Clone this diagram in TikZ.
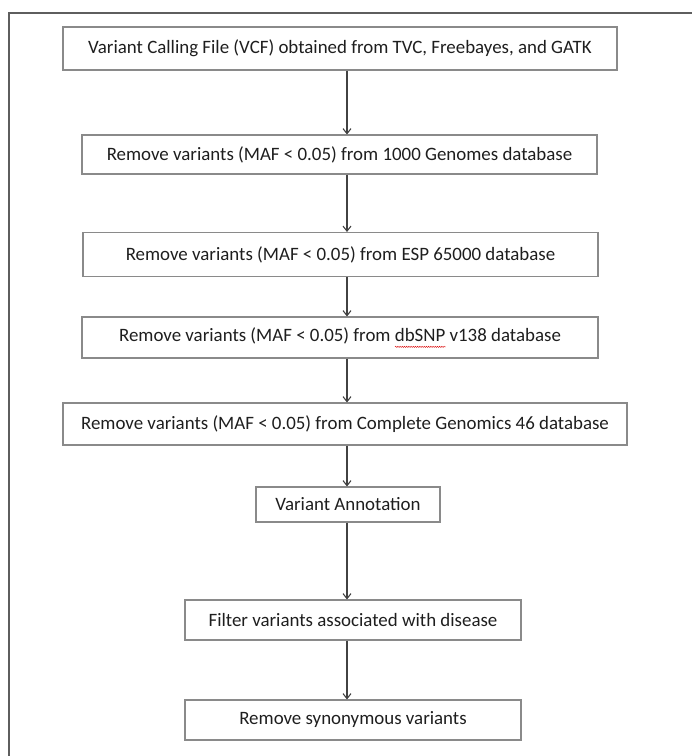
\documentclass[tikz,border=0pt]{standalone}
\usepackage{fontspec}
\setmainfont{Carlito}
\usetikzlibrary{arrows.meta,decorations.pathmorphing}
\definecolor{boxgray}{HTML}{8A8A8A}
\definecolor{linegray}{HTML}{424242}
\definecolor{framegray}{HTML}{5E5E5E}
\definecolor{textgray}{HTML}{1E1E1E}
\newlength{\squiglen}
\newcommand{\squig}[1]{\settowidth{\squiglen}{#1}\rlap{\raisebox{-6.5pt}{\tikz\draw[red!85!black, line width=0.4pt, decorate, decoration={snake, amplitude=0.6pt, segment length=2.2pt}] (0,0) -- (\squiglen,0);}}#1}
\begin{document}
\begin{tikzpicture}[
  x=1pt, y=-1pt,
  flowbox/.style={draw=boxgray, line width=1.1pt, text=textgray, font=\fontsize{18.9}{22}\selectfont, inner sep=0pt},
  flowarrow/.style={draw=linegray, line width=1.1pt, -{Straight Barb[length=5pt, width=8pt]}}
]
\useasboundingbox (0,0) rectangle (692,756);
\draw[framegray, line width=2pt] (9.3,756) -- (9.3,12.7) -- (692,12.7);
\coordinate (spine) at (347,0);
\node[flowbox, minimum width=554, minimum height=43] (vcf) at (340,48.5) {Variant Calling File (VCF) obtained from TVC, Freebayes, and GATK};
\node[flowbox, minimum width=515, minimum height=39] (kgenomes) at (339.5,154.5) {Remove variants (MAF < 0.05) from 1000 Genomes database};
\node[flowbox, minimum width=515, minimum height=44] (esp) at (340.5,254.5) {Remove variants (MAF < 0.05) from ESP 65000 database};
\node[flowbox, minimum width=516, minimum height=41] (dbsnp) at (340,337.5) {Remove variants (MAF < 0.05) from \squig{dbSNP} v138 database};
\node[flowbox, minimum width=564, minimum height=42] (cg) at (345,424) {Remove variants (MAF < 0.05) from Complete Genomics 46 database};
\node[flowbox, minimum width=184, minimum height=35] (annot) at (348,504.5) {Variant Annotation};
\node[flowbox, minimum width=336, minimum height=40] (disease) at (353,620) {Filter variants associated with disease};
\node[flowbox, minimum width=336, minimum height=40] (synon) at (353,720) {Remove synonymous variants};
\draw[flowarrow] (vcf.south -| spine) -- (kgenomes.north -| spine);
\draw[flowarrow] (kgenomes.south -| spine) -- (esp.north -| spine);
\draw[flowarrow] (esp.south -| spine) -- (dbsnp.north -| spine);
\draw[flowarrow] (dbsnp.south -| spine) -- (cg.north -| spine);
\draw[flowarrow] (cg.south -| spine) -- (annot.north -| spine);
\draw[flowarrow] (annot.south -| spine) -- (disease.north -| spine);
\draw[flowarrow] (disease.south -| spine) -- (synon.north -| spine);
\end{tikzpicture}
\end{document}
